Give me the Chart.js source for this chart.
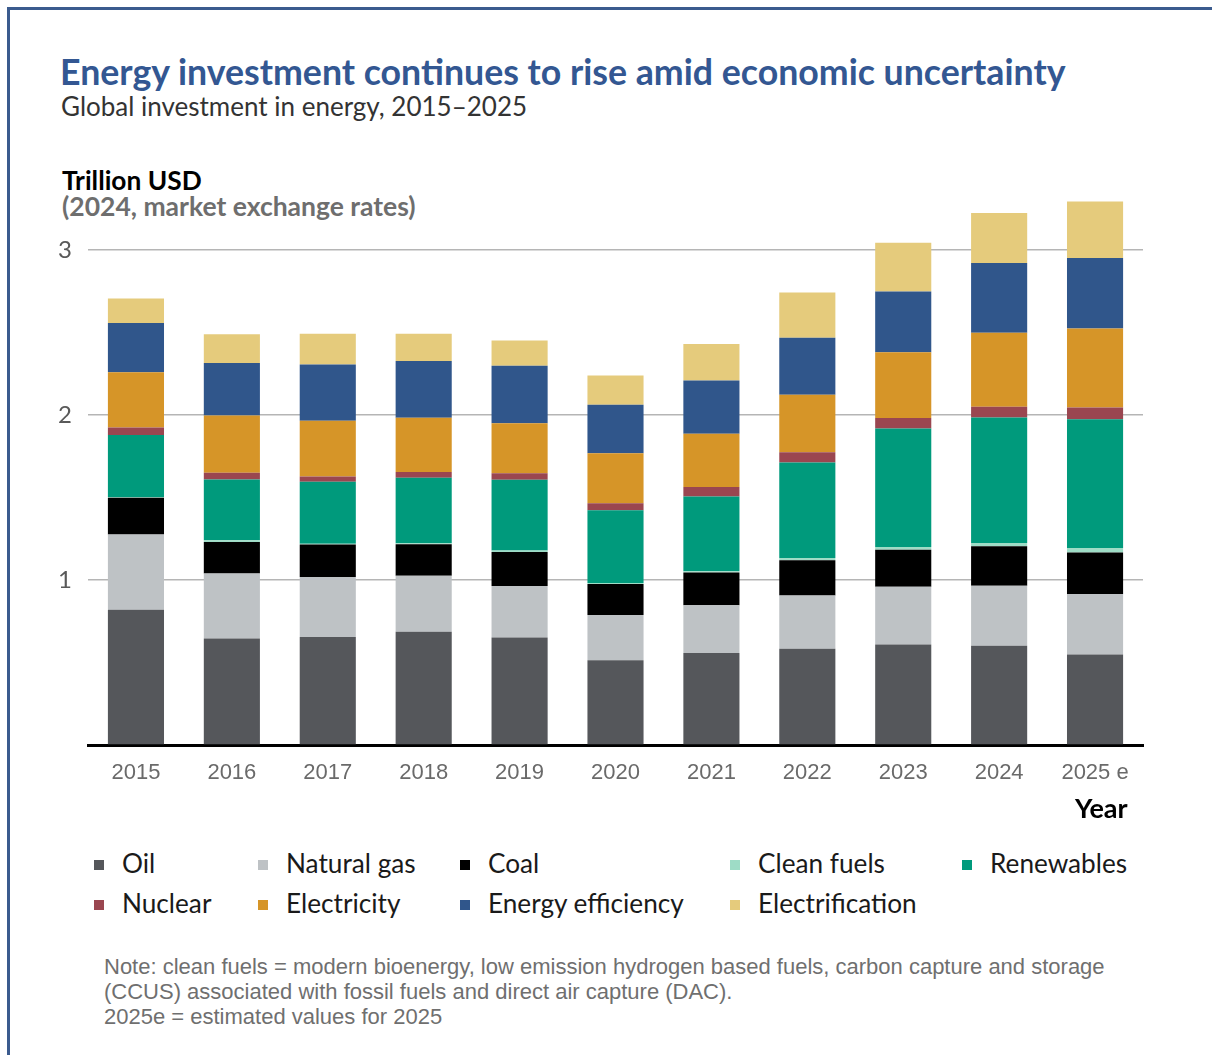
<!DOCTYPE html>
<html>
<head>
<meta charset="utf-8">
<title>Energy investment</title>
<script src="https://cdn.jsdelivr.net/npm/chart.js@4/dist/chart.umd.min.js"></script>
<style>
  html, body { margin: 0; padding: 0; background: #fff; }
  #page { position: relative; width: 1212px; height: 1055px; overflow: hidden; font-family: Lato, "Open Sans", sans-serif; }
  #frame { position: absolute; left: 7px; top: 7px; right: 0; bottom: 0; border-left: 3px solid #3b5b8e; border-top: 3px solid #3b5b8e; }
  .txt { position: absolute; white-space: nowrap; line-height: 1; }
  #title { left: 60px; top: 54px; font-size: 35.7px; font-weight: 700; color: #335792; }
  #subtitle { left: 61px; top: 93px; font-size: 26px; color: #333; }
  #unit1 { left: 62px; top: 167px; font-size: 26.3px; font-weight: 700; color: #000; }
  #unit2 { left: 62px; top: 193px; font-size: 26.5px; font-weight: 700; color: #6e6e6e; }
  #yearLabel { left: 1075px; top: 794px; font-size: 27px; font-weight: 700; color: #000; }
  #chartBox { position: absolute; left: 40px; top: 160px; width: 1120px; height: 640px; }
  .leg { position: absolute; white-space: nowrap; font-size: 26.2px; color: #1a1a1a; line-height: 1; }
  .leg i { display: inline-block; width: 10px; height: 10px; margin-right: 18px; vertical-align: 3px; }
  #note { left: 104px; top: 954px; font-family: "Liberation Sans", Arial, sans-serif; font-size: 22px; line-height: 25px; color: #6f6f6f; }
</style>
</head>
<body>
<div id="page">
  <div id="frame"></div>
  <div class="txt" id="title">Energy investment continues to rise amid economic uncertainty</div>
  <div class="txt" id="subtitle">Global investment in energy, 2015–2025</div>
  <div class="txt" id="unit1">Trillion USD</div>
  <div class="txt" id="unit2">(2024, market exchange rates)</div>
  <div id="chartBox"><canvas id="investChart"></canvas></div>
  <div class="txt" id="yearLabel">Year</div>
  <div id="legend"></div>
  <div class="txt" id="note">Note: clean fuels = modern bioenergy, low emission hydrogen based fuels, carbon capture and storage<br>(CCUS) associated with fossil fuels and direct air capture (DAC).<br>2025e = estimated values for 2025</div>
</div>

<script>
// Global energy investment, trillion USD (2024, MER)
const years = ["2015", "2016", "2017", "2018", "2019", "2020", "2021", "2022", "2023", "2024", "2025 e"];
const oil = [0.82, 0.645, 0.655, 0.686, 0.651, 0.514, 0.557, 0.583, 0.609, 0.602, 0.548];
const naturalGas = [0.455, 0.394, 0.363, 0.34, 0.313, 0.274, 0.29, 0.323, 0.349, 0.363, 0.367];
const coal = [0.223, 0.191, 0.196, 0.19, 0.205, 0.188, 0.198, 0.213, 0.225, 0.239, 0.251];
const cleanFuels = [0.005, 0.01, 0.006, 0.006, 0.009, 0.006, 0.008, 0.014, 0.017, 0.02, 0.028];
const renewables = [0.375, 0.369, 0.375, 0.397, 0.429, 0.44, 0.453, 0.579, 0.717, 0.76, 0.779];
const nuclear = [0.045, 0.041, 0.032, 0.035, 0.04, 0.042, 0.057, 0.062, 0.064, 0.066, 0.071];
const electricity = [0.335, 0.346, 0.337, 0.328, 0.303, 0.304, 0.323, 0.348, 0.398, 0.447, 0.479];
const efficiency = [0.298, 0.319, 0.341, 0.345, 0.347, 0.293, 0.322, 0.346, 0.369, 0.423, 0.428];
const electrification = [0.149, 0.173, 0.187, 0.165, 0.153, 0.177, 0.222, 0.274, 0.295, 0.303, 0.341];
const yTicks = [1, 2, 3];

const series = [
  { label: "Oil", data: oil, color: "#55575b" },
  { label: "Natural gas", data: naturalGas, color: "#bec2c5" },
  { label: "Coal", data: coal, color: "#000000" },
  { label: "Clean fuels", data: cleanFuels, color: "#9edcc6" },
  { label: "Renewables", data: renewables, color: "#009a7c" },
  { label: "Nuclear", data: nuclear, color: "#9a4650" },
  { label: "Electricity", data: electricity, color: "#d69528" },
  { label: "Energy efficiency", data: efficiency, color: "#30568b" },
  { label: "Electrification", data: electrification, color: "#e5cb7c" },
];

const chart = new Chart(document.getElementById("investChart"), {
  type: "bar",
  data: {
    labels: years,
    datasets: series.map((s) => ({
      label: s.label,
      data: s.data,
      backgroundColor: s.color,
      borderWidth: 0,
      barPercentage: 0.585,
      categoryPercentage: 1,
    })),
  },
  options: {
    responsive: true,
    maintainAspectRatio: false,
    animation: false,
    layout: { padding: { top: 0, right: 17, left: 0, bottom: 0 } },
    plugins: { legend: { display: false }, tooltip: { enabled: false } },
    scales: {
      x: {
        stacked: true,
        grid: { display: false },
        border: { color: "#000", width: 3 },
        ticks: {
          color: "#6a6a6a",
          padding: 7,
          font: { family: "'Liberation Sans', Arial, sans-serif", size: 22 },
        },
        afterFit: (scale) => { scale.height = 55; },
      },
      y: {
        stacked: true,
        min: 0,
        max: 3.36,
        border: { display: false },
        grid: {
          drawTicks: false,
          lineWidth: 1.5,
          color: (ctx) => (ctx.tick && ctx.tick.value === 0 ? "rgba(0,0,0,0)" : "#b5b5b5"),
        },
        afterBuildTicks: (scale) => {
          scale.ticks = [0].concat(yTicks).map((v) => ({ value: v }));
        },
        ticks: {
          color: "#595959",
          padding: 16,
          font: { family: "Lato, sans-serif", size: 24 },
          callback: (v) => (v === 0 ? "" : v),
        },
        afterFit: (scale) => { scale.width = 48; },
      },
    },
  },
});

// Legend laid out in five fixed columns, two rows
const legendCols = [94, 258, 460, 730, 962];
const legendRows = [850, 890];
const legendBox = document.getElementById("legend");
chart.data.datasets.forEach((ds, i) => {
  const item = document.createElement("div");
  item.className = "leg";
  item.style.left = legendCols[i % 5] + "px";
  item.style.top = legendRows[Math.floor(i / 5)] + "px";
  item.innerHTML = '<i style="background:' + ds.backgroundColor + '"></i>' + ds.label;
  legendBox.appendChild(item);
});
</script>
</body>
</html>
